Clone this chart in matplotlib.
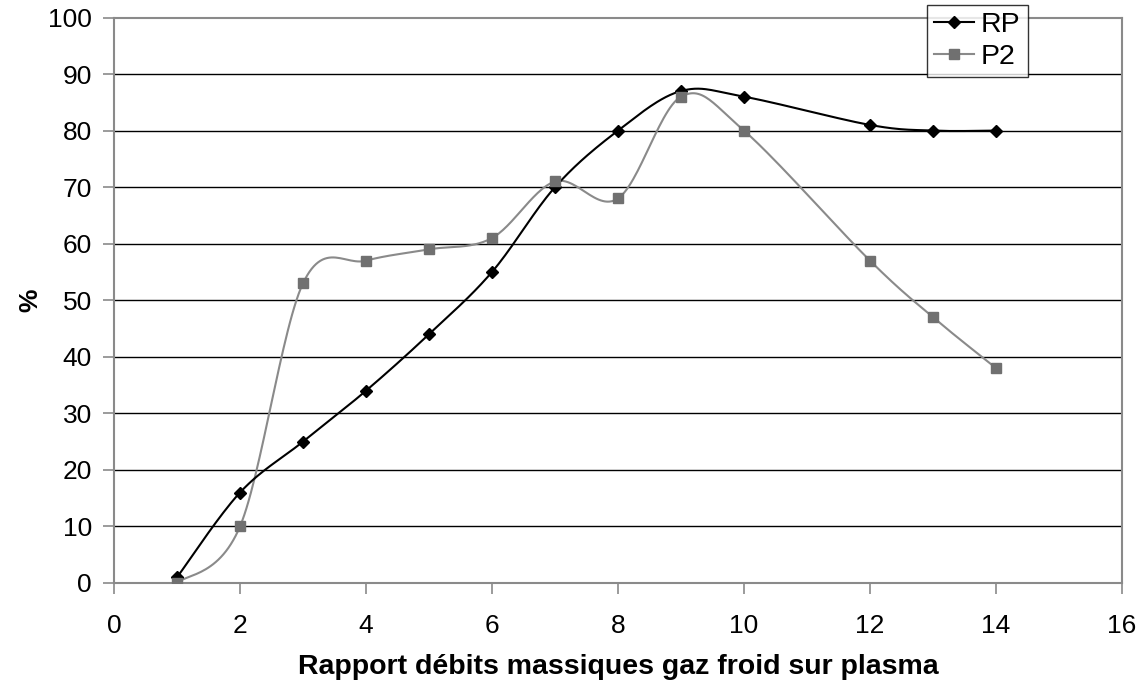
import numpy as np
import matplotlib.pyplot as plt
from matplotlib.lines import Line2D

plt.rcParams['font.family'] = ['Liberation Sans', 'DejaVu Sans']

x_vals = [1, 2, 3, 4, 5, 6, 7, 8, 9, 10, 12, 13, 14]
rp = [1, 16, 25, 34, 44, 55, 70, 80, 87, 86, 81, 80, 80]
p2 = [0, 10, 53, 57, 59, 61, 71, 68, 86, 80, 57, 47, 38]

x_ticks = [0, 2, 4, 6, 8, 10, 12, 14, 16]
y_ticks = [0, 10, 20, 30, 40, 50, 60, 70, 80, 90, 100]


def smooth(xs, ys, n=30):
    # cubic bezier through the points, tangents from neighbours (1/6 tension)
    xs = np.asarray(xs, float)
    ys = np.asarray(ys, float)
    pts = np.column_stack([xs, ys])
    out = [pts[0]]
    t = np.linspace(0, 1, n)[1:, None]
    for i in range(len(pts) - 1):
        p0 = pts[i - 1] if i > 0 else pts[i]
        p1 = pts[i]
        p2_ = pts[i + 1]
        p3 = pts[i + 2] if i + 2 < len(pts) else pts[i + 1]
        c1 = p1 + (p2_ - p0) / 6
        c2 = p2_ - (p3 - p1) / 6
        seg = ((1 - t) ** 3) * p1 + 3 * ((1 - t) ** 2) * t * c1 \
            + 3 * (1 - t) * t ** 2 * c2 + t ** 3 * p2_
        out.extend(seg)
    out = np.array(out)
    return out[:, 0], out[:, 1]


fig = plt.figure(figsize=(11.41, 6.84), dpi=100)
ax = fig.add_axes([114 / 1141, 1 - 583 / 684, 1008 / 1141, 565.5 / 684])

grey = '#8a8a8a'
ax.set_xlim(0, 16)
ax.set_ylim(0, 100)
ax.set_xticks(x_ticks)
ax.set_yticks(y_ticks)
ax.tick_params(labelsize=19, length=8, color=grey, width=1.2)
ax.tick_params(axis='x', pad=14)
ax.tick_params(axis='y', pad=8)

for yv in y_ticks[1:-1]:
    ax.axhline(yv, color='black', lw=1, zorder=1)

for side in ax.spines:
    ax.spines[side].set_color(grey)
    ax.spines[side].set_linewidth(1.5)

sx, sy = smooth(x_vals, rp)
ax.plot(sx, sy, color='black', lw=1.5, zorder=3)
ax.plot(x_vals, rp, linestyle='none', marker='D', ms=6.5, color='black', zorder=4)

sx, sy = smooth(x_vals, p2)
ax.plot(sx, sy, color=grey, lw=1.5, zorder=2)
ax.plot(x_vals, p2, linestyle='none', marker='s', ms=7.5, color='#707070', zorder=4)

ax.set_xlabel('Rapport débits massiques gaz froid sur plasma', fontsize=20.5,
              fontweight='bold', labelpad=12)
ax.set_ylabel('%', fontsize=19, fontweight='bold', labelpad=4)

handles = [
    Line2D([], [], color='black', lw=1.5, marker='D', ms=6.5),
    Line2D([], [], color=grey, lw=1.5, marker='s', ms=7.5, mfc='#707070', mec='#707070'),
]
leg = fig.legend(handles, ['RP', 'P2'], loc='upper left',
                 bbox_to_anchor=(927 / 1141, 1 - 5 / 684), fontsize=20.5,
                 frameon=True, fancybox=False, handlelength=1.4,
                 handletextpad=0.25, borderpad=0.25, labelspacing=0.2,
                 borderaxespad=0)
leg.get_frame().set_edgecolor('black')
leg.get_frame().set_linewidth(1)

fig.savefig('out.png', dpi=100)
